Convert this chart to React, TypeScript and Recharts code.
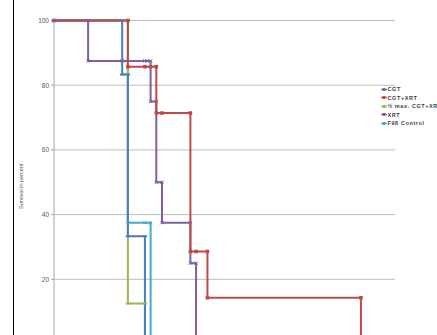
import React from 'react';
import { LineChart, Line, XAxis, YAxis, CartesianGrid, Label } from 'recharts';

// Kaplan-Meier style step curves (time in days, survival in percent)
const cgtX = [0, 12, 12, 13, 13, 16, 16];
const cgtY = [100, 100, 83.3, 83.3, 33.3, 33.3, 0];

const cgtXrtX = [0, 13, 13, 16, 17, 18, 18, 19, 24, 24, 25, 27, 27, 54, 54];
const cgtXrtY = [100, 100, 85.7, 85.7, 85.7, 85.7, 71.4, 71.4, 71.4, 28.6, 28.6, 28.6, 14.3, 14.3, 0];

const halfX = [0, 13, 13, 16, 16];
const halfY = [100, 100, 12.5, 12.5, 0];

const xrtX = [0, 6, 6, 12, 16, 16.4, 17, 17, 18, 18, 19, 19, 24, 24, 25, 25];
const xrtY = [100, 100, 87.5, 87.5, 87.5, 87.5, 87.5, 75, 75, 50, 50, 37.5, 37.5, 25, 25, 0];

const f98X = [0, 13, 13, 16, 17, 17];
const f98Y = [100, 100, 37.5, 37.5, 37.5, 0];

const seriesNames = ['CGT', 'CGT+XRT', '½ max. CGT+XRT', 'XRT', 'F98 Control'];
const seriesColors = ['#4a7ebb', '#be4b48', '#98b954', '#7d60a0', '#46aac5'];

const yTicks = [20, 40, 60, 80, 100];

const toData = (xs: number[], ys: number[]) => xs.map((x, i) => ({ x, y: ys[i] }));

const makeDot = (shape: string, color: string) => (props: any) => {
  const { cx, cy, index } = props;
  if (cx == null || cy == null) return <g key={index} />;
  if (shape === 'square') {
    return <rect key={index} x={cx - 1.8} y={cy - 1.8} width={3.6} height={3.6} fill={color} />;
  }
  if (shape === 'dash') {
    return <rect key={index} x={cx - 2.2} y={cy - 0.9} width={4.4} height={1.8} fill={color} />;
  }
  return (
    <g key={index} stroke={color} strokeWidth={1}>
      <line x1={cx - 1.6} y1={cy - 1.6} x2={cx + 1.6} y2={cy + 1.6} />
      <line x1={cx - 1.6} y1={cy + 1.6} x2={cx + 1.6} y2={cy - 1.6} />
    </g>
  );
};

const dotShapes = ['dash', 'square', 'dash', 'cross', 'cross'];

const LegendBox = () => (
  <div
    style={{
      position: 'absolute',
      left: 381,
      top: 85,
      width: 60,
      fontFamily: '"Liberation Sans", Arial, sans-serif',
      fontSize: 5.5,
      fontWeight: 'bold',
      letterSpacing: 0.6,
      color: '#404040',
    }}
  >
    {seriesNames.map((n, i) => (
      <div key={n} style={{ display: 'flex', alignItems: 'center', height: 8.5, whiteSpace: 'nowrap' }}>
        <svg width={6} height={5} style={{ marginRight: 0.5, flex: 'none' }}>
          <line x1={0} y1={2.5} x2={6} y2={2.5} stroke={seriesColors[i]} strokeWidth={1.2} />
          <rect x={1.5} y={1} width={3} height={3} fill={seriesColors[i]} />
        </svg>
        <span>{n}</span>
      </div>
    ))}
  </div>
);

export default function App() {
  const order = [4, 2, 3, 0, 1];
  const datas = [
    toData(cgtX, cgtY),
    toData(cgtXrtX, cgtXrtY),
    toData(halfX, halfY),
    toData(xrtX, xrtY),
    toData(f98X, f98Y),
  ];
  return (
    <div
      style={{
        position: 'fixed',
        left: 0,
        top: 0,
        width: 437,
        height: 335,
        overflow: 'hidden',
        background: '#fff',
      }}
    >
      <div style={{ position: 'absolute', left: 12.5, top: 0, width: 1.5, height: 335, background: '#000' }} />
      <div style={{ position: 'absolute', left: 0, top: 0 }}>
        <LineChart width={437} height={360} margin={{ top: 20.5, right: 42, left: 0, bottom: 16 }}>
          <CartesianGrid vertical={false} stroke="#bdbdbd" strokeWidth={1} />
          <XAxis type="number" dataKey="x" domain={[0, 60]} hide />
          <YAxis
            type="number"
            domain={[0, 100]}
            ticks={yTicks}
            width={54}
            tickSize={3}
            tickMargin={2}
            axisLine={{ stroke: '#a6a6a6' }}
            tickLine={{ stroke: '#a6a6a6' }}
            tick={{ fontSize: 6.5, fill: '#595959', fontFamily: '"Liberation Sans", Arial, sans-serif' }}
          >
            <Label
              value="Survival in percent"
              angle={-90}
              position="insideLeft"
              offset={0}
              dx={21}
              dy={4}
              textAnchor="middle"
              fill="#595959"
              fontSize={5.5}
              fontFamily='"Liberation Sans", Arial, sans-serif'
            />
          </YAxis>
          {order.map((i) => (
            <Line
              key={seriesNames[i]}
              name={seriesNames[i]}
              data={datas[i]}
              dataKey="y"
              type="linear"
              stroke={seriesColors[i]}
              strokeWidth={2}
              dot={makeDot(dotShapes[i], seriesColors[i])}
              activeDot={false}
              isAnimationActive={false}
            />
          ))}
        </LineChart>
      </div>
      <LegendBox />
    </div>
  );
}
